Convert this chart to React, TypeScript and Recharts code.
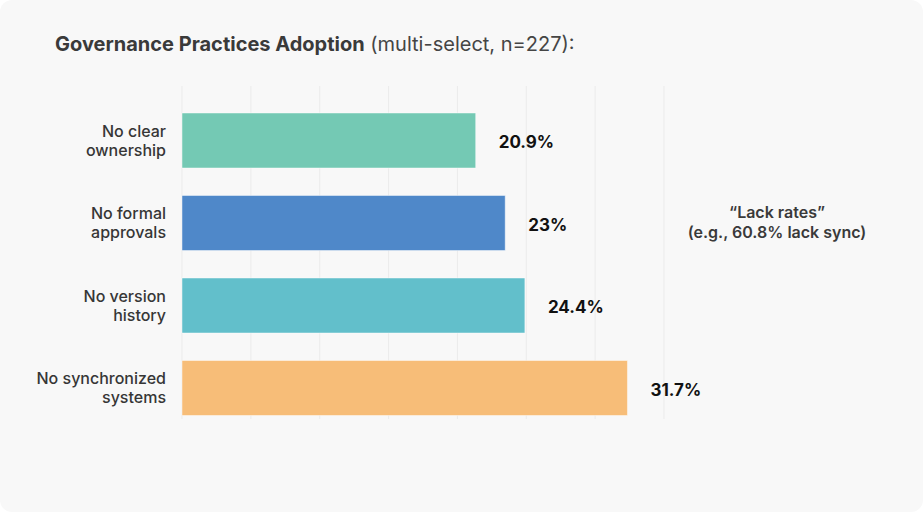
import React from "react";
import {
  BarChart,
  Bar,
  XAxis,
  YAxis,
  CartesianGrid,
  Cell,
  LabelList,
} from "recharts";

// Governance gaps, share of respondents (%)
const categories = [
  "No clear\nownership",
  "No formal\napprovals",
  "No version\nhistory",
  "No synchronized\nsystems",
];
const values = [20.9, 23, 24.4, 31.7];
const valueLabels = ["20.9%", "23%", "24.4%", "31.7%"];
const barColors = ["#74c9b4", "#4f88c9", "#62bfcb", "#f7bd78"];
const xTicks = [0, 4.9, 9.8, 14.7, 19.6, 24.5, 29.4, 34.3];

const data = categories.map((category, i) => ({
  category,
  value: values[i],
  label: valueLabels[i],
}));

const FONT = "Inter, 'Noto Sans', sans-serif";

function CategoryTick(props: any) {
  const { x, y, payload } = props;
  const lines = String(payload.value).split("\n");
  return (
    <text
      x={x - 8}
      y={y}
      textAnchor="end"
      fill="#363636"
      fontFamily={FONT}
      fontSize={16}
      fontWeight={500}
    >
      {lines.map((line, i) => (
        <tspan key={i} x={x - 8} dy={i === 0 ? -3.5 : 19}>
          {line}
        </tspan>
      ))}
    </text>
  );
}

function ValueLabel(props: any) {
  const { x, y, width, height, index } = props;
  return (
    <text
      x={x + width + 23}
      y={y + height / 2 + 3}
      dominantBaseline="middle"
      fill="#111"
      fontFamily={FONT}
      fontSize={17}
      fontWeight={700}
    >
      {data[index].label}
    </text>
  );
}

export default function App() {
  return (
    <div
      style={{
        position: "absolute",
        left: 0,
        top: 0,
        width: 923,
        height: 512,
        background: "#f8f8f8",
        borderRadius: 12,
        overflow: "hidden",
        fontFamily: FONT,
      }}
    >
      <div
        style={{
          position: "absolute",
          left: 55,
          top: 32,
          fontSize: 20,
          lineHeight: "24px",
          color: "#3a3a3a",
          whiteSpace: "nowrap",
        }}
      >
        <span style={{ fontWeight: 700 }}>Governance Practices Adoption</span>{" "}
        <span style={{ fontWeight: 400, color: "#454545" }}>(multi-select, n=227):</span>
      </div>

      <BarChart
        width={923}
        height={512}
        data={data}
        layout="vertical"
        margin={{ top: 99, right: 259, bottom: 83, left: 0 }}
      >
        <CartesianGrid horizontal={false} stroke="#ebebeb" y={86} height={333} />
        <XAxis type="number" domain={[0, 34.3]} ticks={xTicks} hide />
        <YAxis
          type="category"
          dataKey="category"
          width={182}
          axisLine={false}
          tickLine={false}
          tick={<CategoryTick />}
        />
        <Bar
          dataKey="value"
          barSize={55}
          stroke="rgba(255,255,255,0.45)"
          strokeWidth={1}
          isAnimationActive={false}
        >
          {data.map((d, i) => (
            <Cell key={d.category} fill={barColors[i]} />
          ))}
          <LabelList dataKey="value" content={<ValueLabel />} />
        </Bar>
      </BarChart>

      <div
        style={{
          position: "absolute",
          left: 667,
          top: 202,
          width: 220,
          textAlign: "center",
          fontSize: 16,
          lineHeight: "20px",
          fontWeight: 600,
          color: "#3a3a3a",
        }}
      >
        “Lack rates”
        <br />
        (e.g., 60.8% lack sync)
      </div>
    </div>
  );
}
